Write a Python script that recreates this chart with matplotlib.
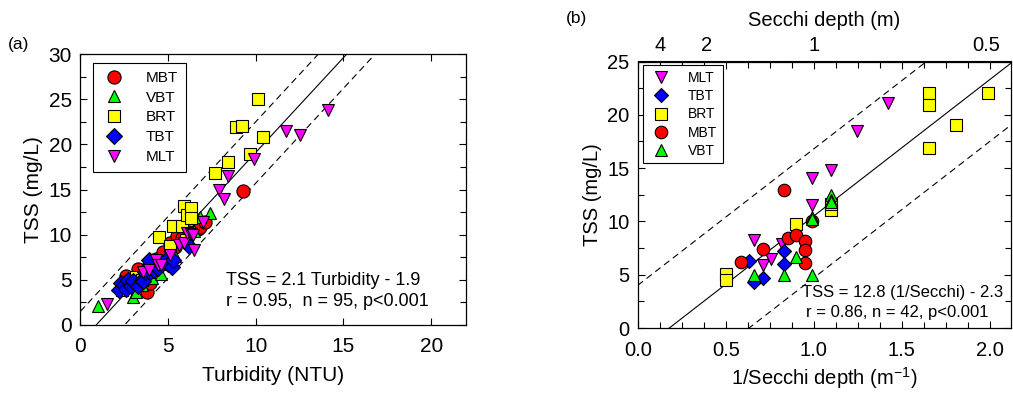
import matplotlib
matplotlib.use("Agg")
import matplotlib.pyplot as plt
import numpy as np

plt.rcParams['font.family'] = ['Liberation Sans', 'DejaVu Sans']

# ---------------- Panel (a) data: Turbidity (NTU) vs TSS (mg/L) ----------------
a_mbt_x = [2.6, 2.8, 3.3, 3.3, 3.8, 4.0, 3.9, 4.3, 4.7, 5.1, 5.4, 5.5, 5.8, 6.0, 6.2, 6.2, 6.7, 6.8, 7.1, 9.3]
a_mbt_y = [5.4, 5.0, 6.2, 4.6, 3.6, 4.7, 6.6, 7.3, 8.1, 9.1, 8.6, 9.9, 9.6, 9.2, 12.0, 10.3, 10.6, 10.8, 11.4, 14.8]
a_vbt_x = [1.0, 3.0, 3.2, 3.5, 4.1, 4.3, 4.6, 4.7, 4.9, 5.2, 5.4, 6.0, 6.5, 6.8, 7.4]
a_vbt_y = [2.1, 3.1, 3.7, 4.4, 5.2, 5.9, 5.7, 6.8, 6.9, 7.7, 7.6, 9.5, 10.4, 12.0, 12.4]
a_brt_x = [2.4, 3.2, 3.5, 4.5, 5.1, 5.3, 5.8, 5.9, 6.0, 6.1, 6.3, 6.3, 7.7, 8.4, 8.9, 9.2, 9.7, 10.1, 10.4]
a_brt_y = [3.9, 5.3, 5.0, 9.7, 8.7, 11.0, 11.0, 13.2, 9.4, 12.2, 13.0, 11.9, 16.8, 18.0, 21.9, 22.0, 18.9, 25.0, 20.8]
a_tbt_x = [2.2, 2.3, 2.5, 2.6, 2.7, 2.9, 3.0, 3.3, 3.5, 3.6, 3.7, 3.9, 4.0, 4.2, 4.4, 4.9, 5.0, 5.2, 5.3, 6.2]
a_tbt_y = [3.9, 4.7, 4.4, 4.0, 5.0, 4.3, 4.9, 4.3, 5.0, 4.9, 5.9, 7.2, 5.9, 6.1, 6.3, 7.2, 6.8, 6.4, 7.2, 8.8]
a_mlt_x = [1.5, 3.6, 3.9, 4.3, 4.4, 4.6, 5.1, 5.6, 5.9, 6.1, 6.3, 6.4, 6.5, 7.0, 7.9, 8.2, 8.4, 9.9, 11.7, 12.5, 14.1]
a_mlt_y = [2.3, 5.9, 6.1, 7.2, 6.6, 6.6, 7.8, 8.9, 9.1, 10.2, 10.1, 10.0, 8.3, 11.4, 14.9, 13.9, 16.5, 18.4, 21.5, 21.0, 23.8]

a_slope, a_icpt = 2.1, -1.9
a_band_up, a_band_lo = 3.4, 3.4

# ---------------- Panel (b) data: 1/Secchi depth vs TSS ----------------
b_mlt_x = [0.66, 0.71, 0.76, 0.82, 0.99, 0.99, 1.10, 1.245, 1.42]
b_mlt_y = [8.3, 5.9, 6.5, 7.9, 14.1, 11.5, 14.8, 18.5, 21.1]
b_tbt_x = [0.63, 0.66, 0.71, 0.83, 0.83]
b_tbt_y = [6.3, 4.35, 4.7, 7.2, 6.0]
b_brt_x = [0.50, 0.50, 0.90, 1.10, 1.10, 1.655, 1.655, 1.655, 1.81, 1.99]
b_brt_y = [5.1, 4.5, 9.8, 11.1, 11.6, 22.0, 20.9, 16.9, 19.0, 22.0]
b_mbt_x = [0.585, 0.71, 0.83, 0.856, 0.90, 0.95, 0.95, 0.95, 0.99]
b_mbt_y = [6.2, 7.4, 12.9, 8.4, 8.7, 8.2, 7.3, 6.1, 10.0]
b_vbt_x = [0.66, 0.83, 0.90, 0.99, 0.99, 0.99, 1.10, 1.10, 1.10]
b_vbt_y = [5.0, 5.0, 6.7, 5.0, 10.45, 10.2, 12.5, 12.0, 11.8]

b_slope, b_icpt = 12.8, -2.3
b_band_up, b_band_lo = 6.3, 5.8

secchi_labels = ["4", "2", "1", "0.5"]
secchi_pos = [0.13, 0.39, 1.0, 1.98]

colors = {"MBT": "#FF0000", "VBT": "#00FF00", "BRT": "#FFFF00",
          "TBT": "#0000FF", "MLT": "#FF00FF"}
markers = {"MBT": "o", "VBT": "^", "BRT": "s", "TBT": "D", "MLT": "v"}
msize = {"MBT": 9.5, "VBT": 9, "BRT": 9, "TBT": 8, "MLT": 9}

fig = plt.figure(figsize=(10.13, 3.96), dpi=100)

W, H = 1013.0, 396.0
axa = fig.add_axes([80.3 / W, (H - 325) / H, 386 / W, 271 / H])
axb = fig.add_axes([637.7 / W, (H - 328) / H, 372.8 / W, 266.5 / H])


def style_axes(ax, size):
    ax.tick_params(which='both', direction='in', top=True, right=True,
                   labelsize=size, width=0.8)
    ax.tick_params(which='major', length=5)
    ax.tick_params(which='minor', length=4)
    ax.tick_params(axis='x', which='both', pad=9)
    ax.tick_params(axis='y', which='both', pad=6)
    for s in ax.spines.values():
        s.set_linewidth(0.9)


def draw(ax, series, ms_scale=1.0):
    handles = []
    for name, xs, ys in series:
        h, = ax.plot(xs, ys, linestyle='none', marker=markers[name],
                     markersize=msize[name] * ms_scale,
                     markerfacecolor=colors[name], markeredgecolor='black',
                     markeredgewidth=0.8, label=name)
        handles.append(h)
    return handles


# ---- Panel a ----
ha = draw(axa, [("MBT", a_mbt_x, a_mbt_y), ("VBT", a_vbt_x, a_vbt_y),
                ("BRT", a_brt_x, a_brt_y), ("TBT", a_tbt_x, a_tbt_y),
                ("MLT", a_mlt_x, a_mlt_y)])
xx = np.array([0, 22])
axa.plot(xx, a_slope * xx + a_icpt, color='black', lw=0.8, zorder=1)
axa.plot(xx, a_slope * xx + a_icpt + a_band_up, color='black', lw=0.8,
         dashes=(6, 4), zorder=1)
axa.plot(xx, a_slope * xx + a_icpt - a_band_lo, color='black', lw=0.8,
         dashes=(6, 4), zorder=1)
axa.set_xlim(0, 22)
axa.set_ylim(0, 30)
axa.set_xticks([0, 5, 10, 15, 20])
axa.set_yticks([0, 5, 10, 15, 20, 25, 30])
axa.set_yticks(np.arange(0, 30.1, 2.5), minor=True)
style_axes(axa, 15)
axa.set_xlabel("Turbidity (NTU)", fontsize=15, labelpad=7)
axa.set_ylabel("TSS (mg/L)", fontsize=15, labelpad=4)
leg = axa.legend(handles=ha, loc='upper left', bbox_to_anchor=(0.032, 0.966),
                 borderaxespad=0, fancybox=False, edgecolor='black',
                 framealpha=1, fontsize=11, labelspacing=0.38,
                 handletextpad=1.2, borderpad=0.5, handlelength=1.8)
leg.get_frame().set_linewidth(0.8)
axa.text(8.3, 4.9, "TSS = 2.1 Turbidity - 1.9", fontsize=13, va='center', ha='left')
axa.text(8.3, 2.55, "r = 0.95,  n = 95, p<0.001", fontsize=13, va='center', ha='left')
fig.text(8 / W, 1 - 45 / H, "(a)", fontsize=12.5, va='center', ha='left')

# ---- Panel b ----
hb = draw(axb, [("MLT", b_mlt_x, b_mlt_y), ("TBT", b_tbt_x, b_tbt_y),
                ("BRT", b_brt_x, b_brt_y), ("MBT", b_mbt_x, b_mbt_y),
                ("VBT", b_vbt_x, b_vbt_y)], ms_scale=0.95)
xb = np.array([0, 2.2])
axb.plot(xb, b_slope * xb + b_icpt, color='black', lw=0.8, zorder=1)
axb.plot(xb, b_slope * xb + b_icpt + b_band_up, color='black', lw=0.8,
         dashes=(6, 4), zorder=1)
axb.plot(xb, b_slope * xb + b_icpt - b_band_lo, color='black', lw=0.8,
         dashes=(6, 4), zorder=1)
axb.set_xlim(0, 2.118)
axb.set_ylim(0, 25)
axb.set_xticks([0, 0.5, 1.0, 1.5, 2.0])
axb.set_xticks(np.arange(0, 2.11, 0.125), minor=True)
axb.set_xticklabels(["0.0", "0.5", "1.0", "1.5", "2.0"])
axb.set_yticks([0, 5, 10, 15, 20, 25])
axb.set_yticks(np.arange(0, 25.1, 2.5), minor=True)
style_axes(axb, 14.5)
axb.set_xlabel("1/Secchi depth (m$^{\\mathregular{-1}}$)", fontsize=14.5, labelpad=4)
axb.set_ylabel("TSS (mg/L)", fontsize=14.5, labelpad=4)
legb = axb.legend(handles=hb, loc='upper left', bbox_to_anchor=(0.015, 0.985),
                  borderaxespad=0, fancybox=False, edgecolor='black',
                  framealpha=1, fontsize=10, labelspacing=0.3,
                  handletextpad=1.0, borderpad=0.4, handlelength=1.8)
legb.get_frame().set_linewidth(0.8)
axb.text(0.935, 3.3, "TSS = 12.8 (1/Secchi) - 2.3", fontsize=12, va='center', ha='left')
axb.text(0.958, 1.45, "r = 0.86, n = 42, p<0.001", fontsize=12, va='center', ha='left')

sec = axb.secondary_xaxis('top')
sec.set_xticks(secchi_pos)
sec.set_xticklabels(secchi_labels)
sec.tick_params(length=0, labelsize=14.5, pad=5)
sec.set_xlabel("Secchi depth (m)", fontsize=14.5, labelpad=7)
fig.text(566 / W, 1 - 18 / H, "(b)", fontsize=12.5, va='center', ha='left')

fig.savefig("out.png", dpi=100)
